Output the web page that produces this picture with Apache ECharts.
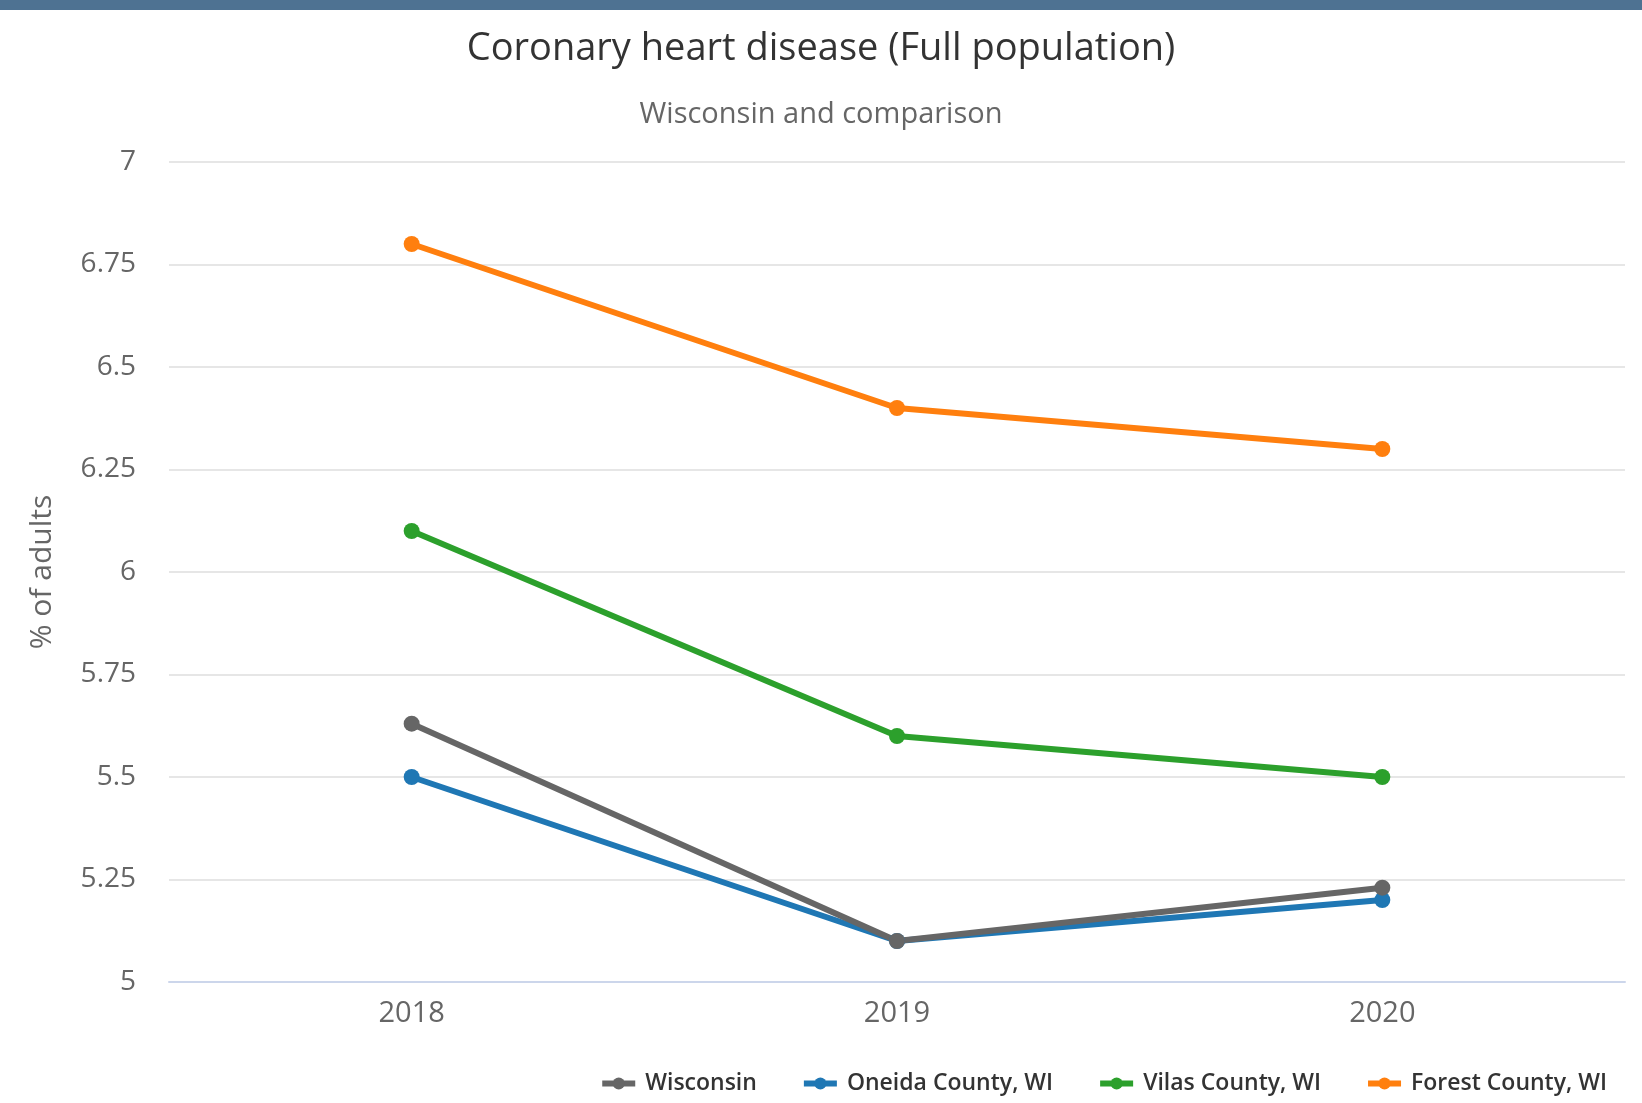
<!DOCTYPE html>
<html>
<head>
<meta charset="utf-8">
<title>Coronary heart disease</title>
<script src="https://cdn.jsdelivr.net/npm/echarts@6/dist/echarts.min.js"></script>
<style>
  html, body { margin: 0; padding: 0; background: #fff; }
  #main { width: 1642px; height: 1103px; }
</style>
</head>
<body>
<div id="main"></div>
<script>
var years = ['2018', '2019', '2020'];
var wisconsin = [5.63, 5.1, 5.23];
var oneida = [5.5, 5.1, 5.2];
var vilas = [6.1, 5.6, 5.5];
var forest = [6.8, 6.4, 6.3];
var yTicks = [5, 5.25, 5.5, 5.75, 6, 6.25, 6.5, 6.75, 7];

var font = '"Open Sans", "DejaVu Sans", sans-serif';

function makeSeries(name, data, color) {
    return {
        name: name,
        type: 'line',
        data: data,
        symbol: 'circle',
        symbolSize: 16,
        lineStyle: { width: 6, color: color },
        itemStyle: { color: color },
        emphasis: { disabled: true }
    };
}

var myChart = echarts.init(document.getElementById('main'));
var option = {
    backgroundColor: '#fff',
    animation: false,
    graphic: [
        {
            type: 'rect',
            left: 0, top: 0,
            shape: { width: 1642, height: 10 },
            style: { fill: '#4e7292' }
        }
    ],
    title: [
        {
            text: 'Coronary heart disease (Full population)',
            left: 'center',
            top: 25,
            textStyle: { fontFamily: font, fontSize: 38, fontWeight: 'normal', color: '#333' }
        },
        {
            text: 'Wisconsin and comparison',
            left: 'center',
            top: 95,
            textStyle: { fontFamily: font, fontSize: 29, fontWeight: 'normal', color: '#666' }
        }
    ],
    legend: {
        bottom: 3,
        right: 30,
        itemWidth: 33,
        itemHeight: 15,
        itemGap: 44,
        lineStyle: { width: 6 },
        textStyle: { fontFamily: font, fontSize: 23, fontWeight: 600, color: '#333', padding: [0, 0, 0, 5] },
        data: ['Wisconsin', 'Oneida County, WI', 'Vilas County, WI', 'Forest County, WI']
    },
    grid: { left: 169, right: 17, top: 162, bottom: 121, containLabel: false },
    xAxis: {
        type: 'category',
        data: years,
        boundaryGap: true,
        axisLine: { lineStyle: { color: '#ccd6eb', width: 2 } },
        axisTick: { show: false },
        axisLabel: { fontFamily: font, fontSize: 29, color: '#666', margin: 17 }
    },
    yAxis: {
        type: 'value',
        min: yTicks[0],
        max: yTicks[yTicks.length - 1],
        interval: 0.25,
        name: '% of adults',
        nameLocation: 'middle',
        nameRotate: 90,
        nameGap: 112,
        nameTextStyle: { fontFamily: font, fontSize: 30, color: '#666' },
        axisLine: { show: false },
        axisTick: { show: false },
        splitLine: { lineStyle: { color: '#e6e6e6', width: 2 } },
        axisLabel: { fontFamily: font, fontSize: 28, color: '#666', margin: 33 }
    },
    series: [
        makeSeries('Oneida County, WI', oneida, '#1f77b4'),
        makeSeries('Wisconsin', wisconsin, '#666666'),
        makeSeries('Vilas County, WI', vilas, '#2ca02c'),
        makeSeries('Forest County, WI', forest, '#ff7f0e')
    ]
};
myChart.setOption(option);
</script>
</body>
</html>
